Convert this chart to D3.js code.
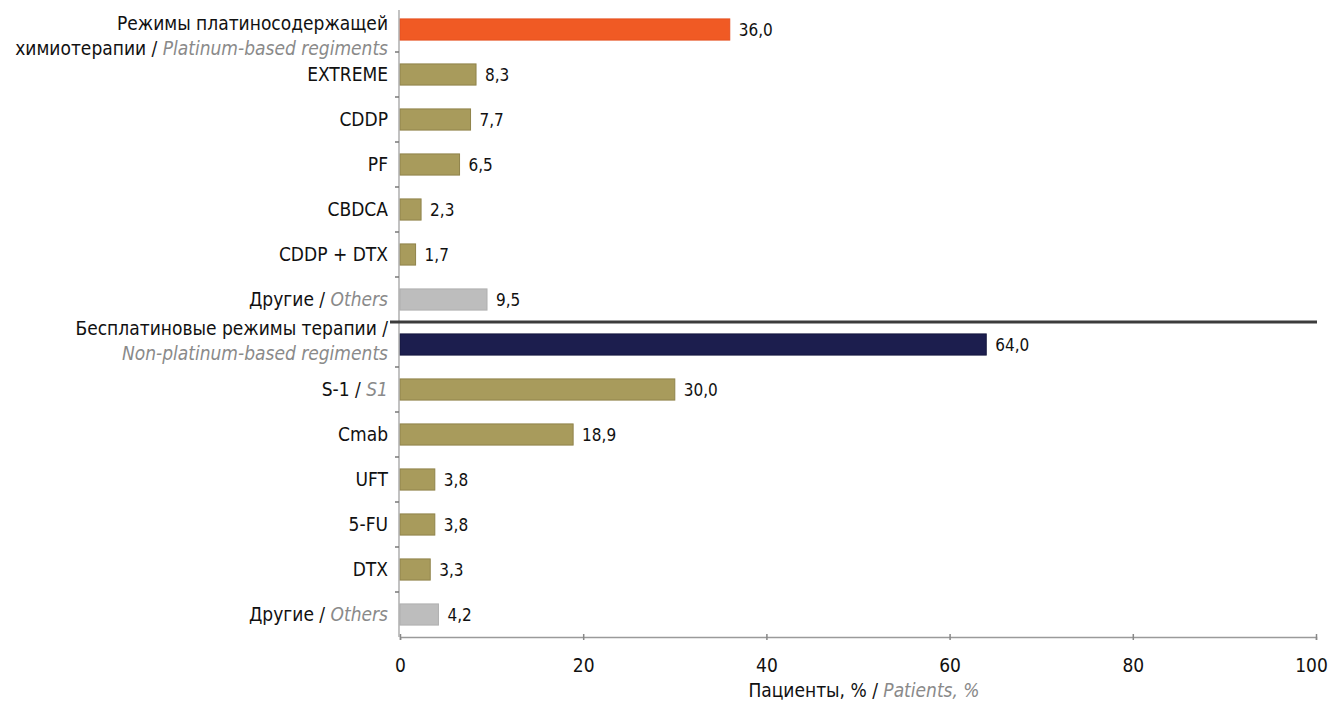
<!DOCTYPE html>
<html>
<head>
<meta charset="utf-8">
<script src="https://cdn.jsdelivr.net/npm/d3@7"></script>
<style>
  html, body { margin: 0; padding: 0; background: #fff; }
  svg { display: block; font-family: "DejaVu Sans Condensed", Roboto, sans-serif; }
</style>
</head>
<body>
<svg id="chart" width="1328" height="701"></svg>
<script>
// Treatment regimens: share of patients, %
const categories = [
  "platinum", "EXTREME", "CDDP", "PF", "CBDCA", "CDDP + DTX", "others-pt",
  "nonplatinum", "S-1", "Cmab", "UFT", "5-FU", "DTX", "others-np"
];
// Russian part of each label ("\n" starts a new line); English part follows on the last line
const labelsRu = [
  "Режимы платиносодержащей\nхимиотерапии / ", "EXTREME", "CDDP", "PF", "CBDCA", "CDDP + DTX", "Другие / ",
  "Бесплатиновые режимы терапии /\n", "S-1 / ", "Cmab", "UFT", "5-FU", "DTX", "Другие / "
];
const labelsEn = [
  "Platinum-based regiments", "", "", "", "", "", "Others",
  "Non-platinum-based regiments", "S1", "", "", "", "", "Others"
];
const values = [36.0, 8.3, 7.7, 6.5, 2.3, 1.7, 9.5, 64.0, 30.0, 18.9, 3.8, 3.8, 3.3, 4.2];
const kinds = [
  "total-pt", "regimen", "regimen", "regimen", "regimen", "regimen", "other",
  "total-np", "regimen", "regimen", "regimen", "regimen", "regimen", "other"
];
const xTicks = [0, 20, 40, 60, 80, 100];
const axisTitleRu = "Пациенты, % / ";
const axisTitleEn = "Patients, %";

const fill = { "total-pt": "#f05a24", "total-np": "#1c1e4e", "regimen": "#a89b5c", "other": "#bdbdbd" };
const stroke = { "total-pt": "#e65020", "total-np": "#15173f", "regimen": "#8f834a", "other": "#b0b0b0" };

const ru = d3.formatLocale({ decimal: ",", thousands: "\u00a0", grouping: [3], currency: ["", " ₽"] });
const fmt = ru.format(".1f");

const svg = d3.select("#chart");
const plotLeft = 399, plotRight = 1316, plotTop = 7, plotBottom = 637;
const labelSize = 19, valueSize = 17, tickSize = 19;

const x = d3.scaleLinear().domain([0, 100]).range([plotLeft + 1, plotRight]);
const y = d3.scaleBand().domain(categories).range([plotTop, plotBottom]).paddingInner(0.53).paddingOuter(0.265);
const step = y.step();
const yc = c => y(c) + y.bandwidth() / 2;

// bars
svg.append("g").selectAll("rect")
  .data(categories)
  .join("rect")
  .attr("x", x(0))
  .attr("y", c => y(c))
  .attr("width", (c, i) => x(values[i]) - x(0))
  .attr("height", y.bandwidth())
  .attr("fill", (c, i) => fill[kinds[i]])
  .attr("stroke", (c, i) => stroke[kinds[i]])
  .attr("stroke-width", 1);

// value labels
svg.append("g").selectAll("text")
  .data(categories)
  .join("text")
  .attr("x", (c, i) => x(values[i]) + 9)
  .attr("y", c => yc(c))
  .attr("dy", "0.36em")
  .attr("font-size", valueSize)
  .attr("fill", "#111")
  .text((c, i) => fmt(values[i]));

// y axis: line plus ticks on band boundaries
const yAxis = svg.append("g");
yAxis.append("line")
  .attr("x1", plotLeft).attr("x2", plotLeft)
  .attr("y1", plotTop + 3).attr("y2", plotBottom)
  .attr("stroke", "#9a9a9a").attr("stroke-width", 1.2);
const boundaries = categories.slice(1).map(c => y(c) - (step - y.bandwidth()) / 2);
yAxis.selectAll(".yt")
  .data(boundaries)
  .join("line")
  .attr("class", "yt")
  .attr("x1", plotLeft - 4).attr("x2", plotLeft)
  .attr("y1", d => d).attr("y2", d => d)
  .attr("stroke", "#777").attr("stroke-width", 1.5);

// separator between platinum and non-platinum groups
const sepY = (yc(categories[6]) + yc(categories[7])) / 2;
svg.append("line")
  .attr("x1", 390).attr("x2", plotRight + 1)
  .attr("y1", sepY).attr("y2", sepY)
  .attr("stroke", "#3c3c3c").attr("stroke-width", 3);

// category labels (Russian in black, English in grey italics)
const lineGap = 25;
const lineShift = { 0: 6, 7: -4 };
const labels = svg.append("g").attr("font-size", labelSize).attr("text-anchor", "end");
categories.forEach((c, i) => {
  const lines = labelsRu[i].split("\n");
  const n = lines.length;
  const y0 = yc(c) - (n - 1) * lineGap / 2 + (lineShift[i] || 0);
  lines.forEach((ln, j) => {
    const t = labels.append("text")
      .attr("x", plotLeft - 11)
      .attr("y", y0 + j * lineGap)
      .attr("dy", "0.36em");
    if (ln) t.append("tspan").attr("fill", "#111").text(ln);
    if (j === n - 1 && labelsEn[i]) {
      t.append("tspan").attr("fill", "#8a8a8a").attr("font-style", "italic").text(labelsEn[i]);
    }
  });
});

// x axis
const xAxis = svg.append("g")
  .attr("transform", `translate(0,${plotBottom})`)
  .call(d3.axisBottom(x).tickValues(xTicks).tickSize(3).tickFormat(d3.format("d")));
xAxis.select(".domain").attr("stroke", "#9a9a9a").attr("stroke-width", 1.5);
xAxis.selectAll(".tick line").attr("y1", -3).attr("y2", 3).attr("stroke", "#888").attr("stroke-width", 1.5);
xAxis.selectAll(".tick text")
  .attr("y", 22)
  .attr("font-size", tickSize)
  .attr("font-family", "'DejaVu Sans Condensed', sans-serif")
  .attr("fill", "#111")
  .attr("dx", d => d === 100 ? -5 : 0);

// x axis title
const title = svg.append("text")
  .attr("x", (x(0) + x(100)) / 2 + 6)
  .attr("y", 690)
  .attr("dy", "0.36em")
  .attr("text-anchor", "middle")
  .attr("font-size", labelSize);
title.append("tspan").attr("fill", "#111").text(axisTitleRu);
title.append("tspan").attr("fill", "#8a8a8a").attr("font-style", "italic").text(axisTitleEn);
</script>
</body>
</html>
